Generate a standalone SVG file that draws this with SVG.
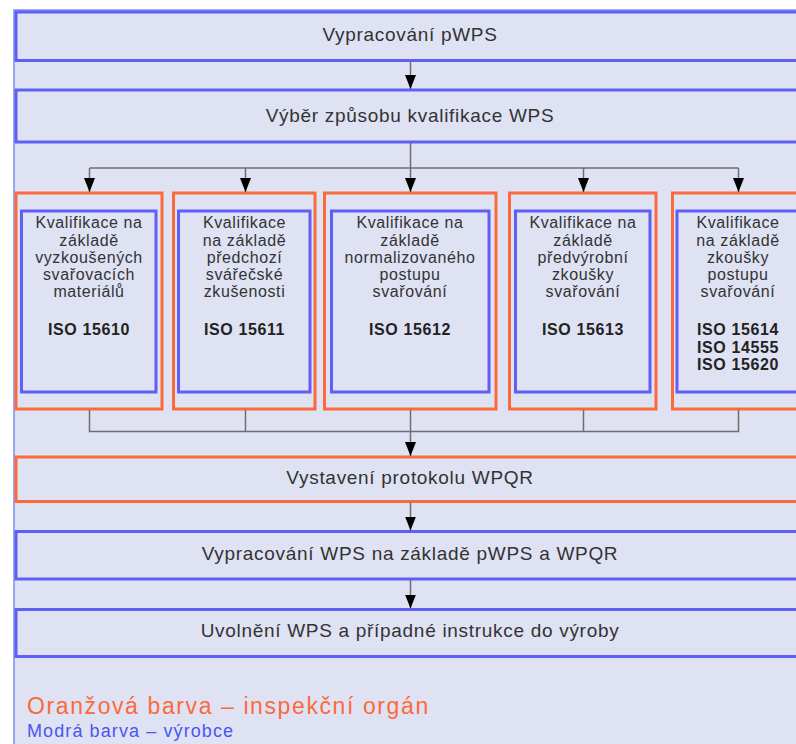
<svg xmlns="http://www.w3.org/2000/svg" width="796" height="744" viewBox="0 0 796 744">
<defs>
<style>
.bg{fill:#dfe2f3;stroke:#7a8fe6;stroke-width:1.5}
.bl{fill:#dfe2f3;stroke:#5f5ff5;stroke-width:3}
.or{fill:#dfe2f3;stroke:#fb6a3a;stroke-width:3}
.t{font-family:"Liberation Sans",Arial,sans-serif;font-size:19px;letter-spacing:0.7px;fill:#333;text-anchor:middle}
.s{font-family:"Liberation Sans",Arial,sans-serif;font-size:16px;letter-spacing:0.6px;fill:#333;text-anchor:middle}
.b{font-weight:bold;fill:#222}
.c{fill:none;stroke:#6e6e6e;stroke-width:1.5}
</style>
<marker id="ah" viewBox="0 0 14 11" refX="14" refY="5.5" markerWidth="14" markerHeight="11" markerUnits="userSpaceOnUse" orient="auto">
<path d="M0,0 L14,5.5 L0,11 Z" fill="#000"/>
</marker>
</defs>
<rect x="14" y="10" width="800" height="750" class="bg"/>

<g id="n1"><rect x="16" y="12" width="800" height="48.5" class="bl"/><text x="410" y="41" class="t">Vypracování pWPS</text></g>
<g id="n2"><rect x="16" y="90" width="800" height="52" class="bl"/><text x="410" y="122" class="t">Výběr způsobu kvalifikace WPS</text></g>

<g id="q1"><rect x="16" y="193" width="146" height="216" class="or"/><rect x="21.5" y="211" width="134.5" height="181" class="bl"/>
<text class="s"><tspan x="89" y="228">Kvalifikace na</tspan><tspan x="89" y="245.5">základě</tspan><tspan x="89" y="262.5">vyzkoušených</tspan><tspan x="89" y="280">svařovacích</tspan><tspan x="89" y="297">materiálů</tspan><tspan x="89" y="335" class="b">ISO 15610</tspan></text></g>
<g id="q2"><rect x="173.5" y="193" width="141.5" height="216" class="or"/><rect x="178.5" y="211" width="131.5" height="181" class="bl"/>
<text class="s"><tspan x="244.5" y="228">Kvalifikace</tspan><tspan x="244.5" y="245.5">na základě</tspan><tspan x="244.5" y="262.5">předchozí</tspan><tspan x="244.5" y="280">svářečské</tspan><tspan x="244.5" y="297">zkušenosti</tspan><tspan x="244.5" y="335" class="b">ISO 15611</tspan></text></g>
<g id="q3"><rect x="324.5" y="193" width="171.5" height="216" class="or"/><rect x="331.5" y="211" width="157.5" height="181" class="bl"/>
<text class="s"><tspan x="410" y="228">Kvalifikace na</tspan><tspan x="410" y="245.5">základě</tspan><tspan x="410" y="262.5">normalizovaného</tspan><tspan x="410" y="280">postupu</tspan><tspan x="410" y="297">svařování</tspan><tspan x="410" y="335" class="b">ISO 15612</tspan></text></g>
<g id="q4"><rect x="509.5" y="193" width="146.5" height="216" class="or"/><rect x="515.5" y="211" width="134.5" height="181" class="bl"/>
<text class="s"><tspan x="583" y="228">Kvalifikace na</tspan><tspan x="583" y="245.5">základě</tspan><tspan x="583" y="262.5">předvýrobní</tspan><tspan x="583" y="280">zkoušky</tspan><tspan x="583" y="297">svařování</tspan><tspan x="583" y="335" class="b">ISO 15613</tspan></text></g>
<g id="q5"><rect x="672.5" y="193" width="140" height="216" class="or"/><rect x="677" y="211" width="130" height="181" class="bl"/>
<text class="s"><tspan x="738" y="228">Kvalifikace</tspan><tspan x="738" y="245.5">na základě</tspan><tspan x="738" y="262.5">zkoušky</tspan><tspan x="738" y="280">postupu</tspan><tspan x="738" y="297">svařování</tspan><tspan x="738" y="335" class="b">ISO 15614</tspan><tspan x="738" y="352.5" class="b">ISO 14555</tspan><tspan x="738" y="370" class="b">ISO 15620</tspan></text></g>

<g id="n3"><rect x="16" y="457" width="800" height="44.5" class="or"/><text x="410" y="484" class="t">Vystavení protokolu WPQR</text></g>
<g id="n4"><rect x="16" y="531.5" width="800" height="47.5" class="bl"/><text x="410" y="560" class="t">Vypracování WPS na základě pWPS a WPQR</text></g>
<g id="n5"><rect x="16" y="609.5" width="800" height="47" class="bl"/><text x="410" y="637" class="t">Uvolnění WPS a případné instrukce do výroby</text></g>

<g id="connectors">
<path class="c" d="M410.5,61 V89" marker-end="url(#ah)"/>
<path class="c" d="M410.5,143 V192" marker-end="url(#ah)"/>
<path class="c" d="M89.5,168 H738.5"/>
<path class="c" d="M89.5,168 V192" marker-end="url(#ah)"/>
<path class="c" d="M245.5,168 V192" marker-end="url(#ah)"/>
<path class="c" d="M583.5,168 V192" marker-end="url(#ah)"/>
<path class="c" d="M738.5,168 V192" marker-end="url(#ah)"/>
<path class="c" d="M89.5,410 V431.5 H738.5 V410"/>
<path class="c" d="M245.5,410 V431.5"/>
<path class="c" d="M583.5,410 V431.5"/>
<path class="c" d="M410.5,410 V456" marker-end="url(#ah)"/>
<path class="c" d="M410.5,502 V530.5" marker-end="url(#ah)"/>
<path class="c" d="M410.5,580 V608.5" marker-end="url(#ah)"/>
</g>

<g id="legend">
<text x="27" y="714" font-family="Liberation Sans, Arial, sans-serif" font-size="23" letter-spacing="1.6" fill="#fb6a3a">Oranžová barva – inspekční orgán</text>
<text x="27" y="737" font-family="Liberation Sans, Arial, sans-serif" font-size="18" letter-spacing="1.1" fill="#4a55f0">Modrá barva – výrobce</text>
</g>
</svg>
